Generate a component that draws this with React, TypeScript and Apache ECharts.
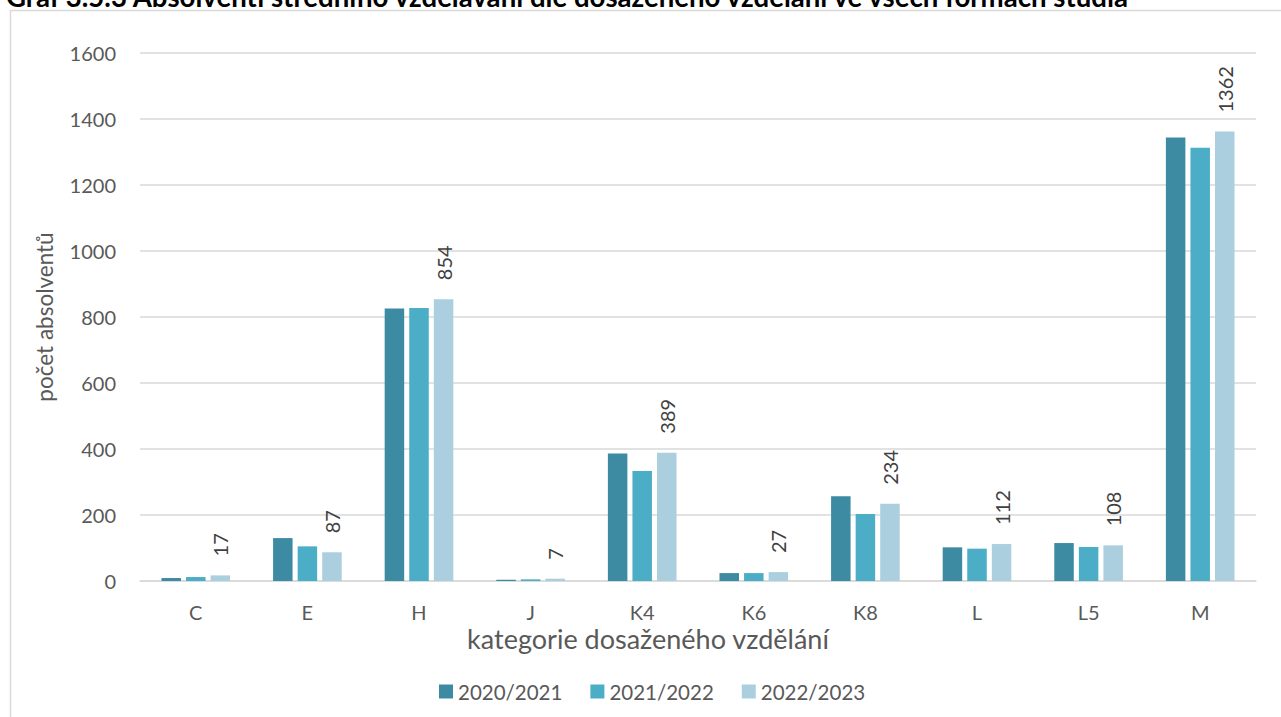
import React, { useEffect, useRef } from "react";
import * as echarts from "echarts";

const titleText =
  "Graf 3.5.3 Absolventi středního vzdělávání dle dosaženého vzdělání ve všech formách studia";
const xAxisTitle = "kategorie dosaženého vzdělání";
const yAxisTitle = "počet absolventů";
const categories = ["C", "E", "H", "J", "K4", "K6", "K8", "L", "L5", "M"];
const seriesNames = ["2020/2021", "2021/2022", "2022/2023"];
const values2020 = [9, 130, 826, 4, 386, 24, 257, 102, 115, 1344];
const values2021 = [12, 105, 827, 5, 333, 24, 203, 98, 103, 1313];
const values2022 = [17, 87, 854, 7, 389, 27, 234, 112, 108, 1362];
const colors = ["#3C8BA3", "#4BADC6", "#ABCFDE"];
const yTicks = { min: 0, max: 1600, interval: 200 };

const FONT = "Lato, 'Open Sans', sans-serif";

export default function App() {
  const ref = useRef<HTMLDivElement>(null);
  useEffect(() => {
    if (!ref.current) return;
    const chart = echarts.init(ref.current, null, { renderer: "svg" });
    const allValues = [values2020, values2021, values2022];
    chart.setOption({
      animation: false,
      textStyle: { fontFamily: FONT },
      graphic: [
        {
          type: "rect",
          shape: { x: 10.5, y: 10.5, width: 1300, height: 730 },
          style: { fill: "none", stroke: "#D9D9D9", lineWidth: 1.5 },
          silent: true,
        },
        {
          type: "text",
          x: 6,
          y: 10,
          style: {
            text: titleText,
            font: `bold 27.6px ${FONT}`,
            fill: "#000000",
            verticalAlign: "bottom",
            align: "left",
          },
        },
        {
          type: "text",
          x: 648,
          y: 638,
          style: {
            text: xAxisTitle,
            font: `27px ${FONT}`,
            fill: "#595959",
            verticalAlign: "middle",
            align: "center",
          },
        },
      ],
      legend: {
        data: seriesNames,
        left: 434,
        top: 676,
        itemWidth: 14,
        itemHeight: 14,
        itemGap: 28,
        icon: "rect",
        textStyle: { fontSize: 20.5, color: "#595959", fontFamily: FONT },
      },
      grid: { left: 140, right: 25, top: 53, bottom: 136, containLabel: false },
      xAxis: {
        type: "category",
        data: categories,
        axisLine: { lineStyle: { color: "#D9D9D9", width: 1.5 } },
        axisTick: { show: false },
        axisLabel: { fontSize: 20, color: "#595959", margin: 21, fontFamily: FONT },
      },
      yAxis: {
        type: "value",
        min: yTicks.min,
        max: yTicks.max,
        interval: yTicks.interval,
        name: yAxisTitle,
        nameLocation: "middle",
        nameGap: 84,
        nameTextStyle: { fontSize: 22.5, color: "#595959", fontFamily: FONT },
        axisLine: { show: false },
        axisTick: { show: false },
        axisLabel: {
          fontSize: 20,
          color: "#595959",
          margin: 24,
          fontFamily: FONT,
          formatter: (v: number) => String(v),
        },
        splitLine: { lineStyle: { color: "#D9D9D9", width: 1.5 } },
      },
      series: seriesNames.map((name, i) => ({
        name,
        type: "bar",
        data: allValues[i],
        barWidth: 19.5,
        barGap: "26%",
        itemStyle: { color: colors[i] },
        label:
          i === 2
            ? {
                show: true,
                position: "top",
                rotate: 90,
                align: "left",
                verticalAlign: "middle",
                distance: 17,
                offset: [2, 0],
                fontSize: 20,
                color: "#404040",
                fontFamily: FONT,
              }
            : { show: false },
      })),
    });
    return () => chart.dispose();
  }, []);
  return (
    <div
      style={{
        position: "fixed",
        left: 0,
        top: 0,
        width: 1281,
        height: 717,
        overflow: "hidden",
        background: "#ffffff",
      }}
    >
      <div ref={ref} style={{ width: 1281, height: 717 }} />
    </div>
  );
}
